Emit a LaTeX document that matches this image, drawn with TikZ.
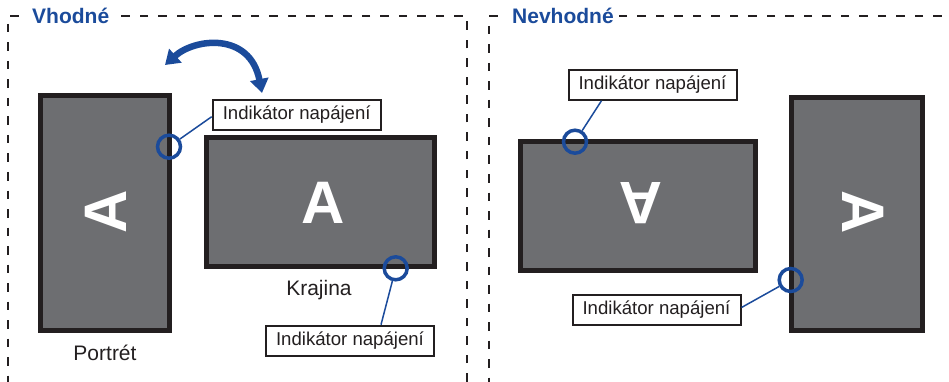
\documentclass[tikz,border=0pt]{standalone}
\usepackage{fontspec}
\setmainfont{Liberation Sans}
\usetikzlibrary{arrows.meta,calc}
\definecolor{bl}{RGB}{27,75,155}
\definecolor{scr}{RGB}{109,110,113}
\definecolor{frm}{RGB}{35,31,32}
\begin{document}
\begin{tikzpicture}[x=1pt,y=-1pt,
  monitor/.style={draw=frm, line width=5pt, fill=scr},
  bigA/.style={text=white, font=\fontsize{60}{60}\selectfont\bfseries, inner sep=0pt},
  lbl/.style={draw=frm, line width=2pt, fill=white, minimum width=168pt, minimum height=30pt, inner sep=0pt, font=\fontsize{18.6}{18.6}\selectfont, text=frm},
  pwr/.style={circle, draw=bl, line width=3.5pt, minimum size=23pt, inner sep=0pt},
  lead/.style={draw=bl, line width=1.5pt},
  frame/.style={draw=frm, line width=2pt, dash pattern=on 8.5pt off 10pt},
  ttl/.style={font=\fontsize{21}{21}\selectfont\bfseries, text=bl, fill=white, inner xsep=4pt, inner ysep=2pt},
  captxt/.style={font=\fontsize{21}{21}\selectfont, text=frm}
]
\useasboundingbox (0,0) rectangle (949,382);
% frames
\draw[frame] (467,400) -- (467,16) -- (8,16) -- (8,400);
\draw[frame] (960,16) -- (489,16) -- (489,400);
\node[ttl, anchor=base west] (t1) at (28,23.5) {Vhodné};
\node[ttl, anchor=base west] (t2) at (508,23.5) {Nevhodné};

% ---- left panel ----
\draw[monitor] (40.2,95.8) rectangle (169.8,330.2);
\node[bigA, rotate=90] (a1) at (106,211.7) {A};
\draw[monitor] (206.5,137.5) rectangle (434.2,266.8);
\node[bigA] (a2) at (322.7,203.3) {A};

\node[pwr] (c1) at (169,146.7) {};
\node[lbl] (l1) at (296.7,115) {Indikátor napájení};
\draw[lead] (c1) -- (l1.west |- 0,116.7);

\node[pwr] (c2) at (395.7,268.3) {};
\node[lbl] (l2) at (350,340.7) {Indikátor napájení};
\draw[lead] (c2) -- ([xshift=-54pt]l2.north east);

\node[captxt] (k) at (319,290) {Krajina};
\node[captxt] (p) at (105,353.3) {Portrét};

\draw[bl, line width=6.5pt, {Triangle[width=18pt,length=14pt]}-{Triangle[width=18pt,length=14pt]}]
  (165,65) .. controls (195,38) and (250,32) .. (262,93);

% ---- right panel ----
\draw[monitor] (520.8,141.5) rectangle (755.2,270.8);
\node[bigA, rotate=180] (a3) at (641,203.3) {A};
\draw[monitor] (791.8,97.5) rectangle (922.5,330.8);
\node[bigA, rotate=-90] (a4) at (863.3,211.7) {A};

\node[pwr] (c3) at (575,141.7) {};
\node[lbl] (l3) at (652.5,84.7) {Indikátor napájení};
\draw[lead] (c3) -- ([xshift=34pt]l3.south west);

\node[pwr] (c4) at (790.7,280) {};
\node[lbl] (l4) at (656.5,310) {Indikátor napájení};
\draw[lead] (c4) -- (l4.east |- 0,307.5);
\end{tikzpicture}
\end{document}
